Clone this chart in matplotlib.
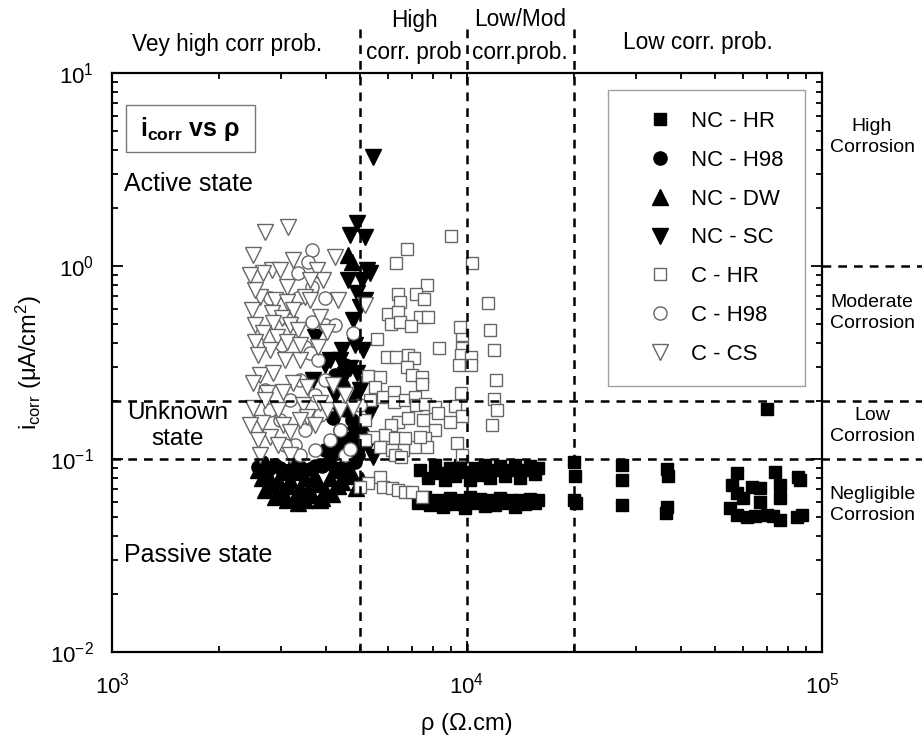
import matplotlib
matplotlib.use("Agg")
import matplotlib.pyplot as plt
from matplotlib.patches import Rectangle

plt.rcParams['font.family'] = ['Liberation Sans', 'DejaVu Sans']
plt.rcParams['mathtext.fontset'] = 'custom'
plt.rcParams['mathtext.rm'] = 'Liberation Sans'
plt.rcParams['mathtext.it'] = 'Liberation Sans:italic'
plt.rcParams['mathtext.bf'] = 'Liberation Sans:bold'
plt.rcParams['mathtext.default'] = 'regular'

# ---- data (rho in ohm.cm, icorr in uA/cm2) ----
nc_hr_rho = [7373, 7766, 8126, 8395, 8670, 8956, 9252, 9557, 9872, 10196, 10532, 10879,
             11238, 11610, 11993, 12388, 12794, 13216, 13652, 14105, 14572, 15047, 15542, 15849,
             7278, 7616, 7867, 8286, 8558, 8956, 9252, 9557, 9872, 10196, 10532, 10879,
             11238, 11610, 11993, 12388, 12794, 13216, 13652, 14105, 14572, 15047, 15542, 15849,
             20010, 20100, 20010, 20280, 27330, 27330, 27330, 36590, 36830, 36590, 36360,
             57650, 55790, 57650, 59890, 63530, 66880, 73760, 76170, 76170, 66880, 85560, 86690,
             55060, 57650, 61470, 64760, 69980, 72760, 76170, 85070, 87870, 69980]
nc_hr_i = [0.0877, 0.0797, 0.0931, 0.0846, 0.0778, 0.0899, 0.0816, 0.0931, 0.0856, 0.0778, 0.0899, 0.0826,
           0.0931, 0.0797, 0.0877, 0.0920, 0.0816, 0.0877, 0.0931, 0.0797, 0.0877, 0.0920, 0.0836, 0.0899,
           0.0592, 0.0635, 0.0578, 0.0613, 0.0564, 0.0628, 0.0585, 0.0613, 0.0557, 0.0635, 0.0592, 0.0620,
           0.0571, 0.0613, 0.0578, 0.0628, 0.0592, 0.0613, 0.0564, 0.0613, 0.0585, 0.0620, 0.0592, 0.0613,
           0.0965, 0.0816, 0.0613, 0.0592, 0.0931, 0.0778, 0.0578, 0.0888, 0.0816, 0.0564, 0.0525,
           0.0846, 0.0733, 0.0666, 0.0628, 0.0716, 0.0708, 0.0856, 0.0733, 0.0628, 0.0598, 0.0807, 0.0778,
           0.0557, 0.0513, 0.0501, 0.0507, 0.0513, 0.0507, 0.0483, 0.0501, 0.0513, 0.182]

nc_h98_rho = [2577, 2751, 2974, 3172, 3385, 3612, 3905, 4248,
              4194, 4389, 4622, 4836, 4994, 4533, 4744, 4332, 5059, 4533, 4248,
              2645, 2879, 3277, 3731, 4059, 4533, 4836, 3981, 4744, 4932, 4389]
nc_h98_i = [0.0909, 0.0877, 0.0899, 0.0877, 0.0909, 0.0888, 0.0920, 0.0899,
            0.163, 0.141, 0.125, 0.150, 0.118, 0.179, 0.109, 0.111, 0.138, 0.307, 0.272,
            0.0965, 0.0931, 0.0953, 0.0920, 0.0953, 0.0931, 0.0965, 0.111, 0.159, 0.105, 0.125]

nc_dw_rho = [2645, 2823, 3013, 3172, 3277, 3385, 3497, 3660, 3804, 3981, 4112, 4332, 4533,
             2879, 3497, 3854, 3072, 2698, 4389, 4744, 4622, 4744, 4445, 4836,
             2577, 2751, 2936, 3131, 3342, 3565, 3731, 3905, 4167, 4445, 4682, 4867, 5059, 3112, 3342]
nc_dw_i = [0.0797, 0.0733, 0.0675, 0.0778, 0.0635, 0.0708, 0.0797, 0.0651, 0.0742, 0.0691, 0.0797, 0.0725, 0.0826,
           0.0635, 0.0613, 0.0613, 0.0856, 0.0691, 0.0877, 0.0816, 1.140, 1.049, 0.263, 0.215,
           0.0877, 0.0826, 0.0778, 0.0725, 0.0856, 0.0691, 0.0816, 0.0628, 0.0658, 0.0760, 0.0877, 0.0708,
           0.0778, 0.0613, 0.0592]

nc_sc_rho = [5435, 4899, 4682, 5159, 5226, 4622, 5059, 4899, 4994, 4774, 5330, 3731, 4112, 4389,
             4682, 4899, 3683, 5330, 4994, 4682, 5435, 4194, 4592, 4836, 5159, 4445, 4248, 5159,
             3981, 4533, 4994, 4332, 4836, 5261, 5093]
nc_sc_i = [3.672, 1.670, 1.448, 1.414, 0.953, 0.846, 0.846, 0.724, 0.613, 0.525, 0.920, 0.429, 0.326, 0.326,
           0.296, 0.279, 0.257, 0.173, 0.147, 0.125, 0.1024, 0.1024, 0.289, 0.390, 0.666, 0.367, 0.215, 0.125,
           0.307, 0.272, 0.228, 0.179, 0.133, 0.118, 0.367]

c_hr_rho = [9014, 6776, 6310, 10330, 7716, 6392, 7184, 7567, 6476, 5991, 6392, 7373, 7766, 6109,
            6476, 6955, 5578, 8340, 9681, 9557, 9681, 9619, 10263, 9495, 10263, 5953, 6310, 6821,
            7092, 6776, 7000, 7469, 7469, 5261, 5688, 5506, 5800, 6229, 6229, 6689, 7138, 7184,
            7616, 8126, 8286, 9252, 9619, 9681, 8956, 8126, 7616, 7138, 7716, 7373, 6392, 6109,
            5875, 5435, 5688, 6270, 6689, 6603, 6148, 7518, 6821, 9372, 9681, 6270, 6518,
            5688, 5261, 5800, 6148, 6392, 6689, 7000, 7469, 4994,
            11460, 11610, 11915, 12070, 11915, 12149, 11761, 5159, 5330, 5159]
c_hr_i = [1.431, 1.225, 1.036, 1.036, 0.797, 0.716, 0.716, 0.675, 0.651, 0.564, 0.578, 0.544, 0.544, 0.501,
          0.513, 0.489, 0.418, 0.376, 0.439, 0.483, 0.376, 0.346, 0.338, 0.307, 0.307, 0.338, 0.338, 0.346,
          0.334, 0.300, 0.272, 0.266, 0.245, 0.269, 0.266, 0.236, 0.210, 0.222, 0.197, 0.202, 0.210, 0.191,
          0.193, 0.186, 0.173, 0.188, 0.220, 0.167, 0.156, 0.141, 0.128, 0.115, 0.115, 0.130, 0.156, 0.150,
          0.133, 0.130, 0.115, 0.128, 0.128, 0.111, 0.111, 0.159, 0.163, 0.121, 0.105, 0.105, 0.1024,
          0.0807, 0.0751, 0.0716, 0.0708, 0.0691, 0.0675, 0.0675, 0.0635, 0.0716,
          0.643, 0.466, 0.367, 0.257, 0.205, 0.179, 0.150, 0.159, 0.202, 0.125]

c_h98_rho = [3660, 3565, 3342, 3660, 2787, 3342, 3981, 3981, 3660, 4248, 4774, 3497, 3612, 3385,
             3172, 3731, 3854, 3497, 3277, 4112, 4389, 2974, 2787, 4533, 2698, 3072, 4682, 4994,
             3804, 3172, 3013, 3385, 3731, 3981]
c_h98_i = [1.210, 1.049, 0.920, 0.778, 0.683, 0.683, 0.683, 0.495, 0.513, 0.495, 0.450, 0.380, 0.354, 0.257,
           0.202, 0.215, 0.169, 0.141, 0.118, 0.125, 0.141, 0.159, 0.179, 0.105, 0.228, 0.118, 0.113, 0.191,
           0.326, 0.525, 0.390, 0.105, 0.111, 0.257]

c_cs_rho = [2698, 3131, 2496, 4248, 3235, 2823, 2974, 2663, 3780, 3930, 3112, 2611, 2879, 3112, 3497,
            2480, 2823, 3235, 3013, 3854, 2528, 2842, 3172, 3342, 2663, 2916, 4332, 4033, 3112, 2528,
            3804, 2787, 2611, 2842, 2496, 3235, 2733, 3032, 3543, 2496, 2936, 3452, 2645, 3032, 3854,
            2787, 3172, 2577, 2936, 3543, 4033, 4389, 4774, 3385, 2528, 3612, 5159,
            2447, 2577, 3385, 3612, 3072, 2698, 2447, 3731, 4194, 4533, 3385, 2611, 3172]
c_cs_i = [1.501, 1.594, 1.140, 1.113, 1.074, 0.953, 0.953, 0.920, 0.953, 0.846, 0.778, 0.691, 0.666, 0.651, 0.691,
          0.592, 0.571, 0.592, 0.538, 0.544, 0.495, 0.507, 0.495, 0.466, 0.450, 0.429, 0.666, 0.455, 0.404, 0.404,
          0.380, 0.367, 0.272, 0.279, 0.248, 0.248, 0.220, 0.222, 0.236, 0.184, 0.179, 0.191, 0.154, 0.150, 0.195,
          0.130, 0.138, 0.125, 0.118, 0.165, 0.179, 0.179, 0.184, 0.326, 0.751, 0.846, 0.628,
          0.898, 0.346, 0.390, 0.666, 0.326, 0.202, 0.150, 0.150, 0.242, 0.215, 0.159, 0.105, 0.105]

rho_limits = [5000, 10000, 20000]
icorr_limits = [0.2, 0.1]

# ---- figure ----
fig = plt.figure(figsize=(9.22, 7.43), dpi=100)
ax = fig.add_axes([112 / 922, 1 - 652 / 743, 710 / 922, 579 / 743])
ax.set_xscale('log')
ax.set_yscale('log')
ax.set_xlim(1e3, 1e5)
ax.set_ylim(1e-2, 1e1)

grey = '#666666'
ax.plot(nc_hr_rho, nc_hr_i, ls='none', marker='s', ms=9, mfc='black', mec='black', label='NC - HR')
ax.plot(nc_h98_rho, nc_h98_i, ls='none', marker='o', ms=9.5, mfc='black', mec='black', label='NC - H98')
ax.plot(nc_dw_rho, nc_dw_i, ls='none', marker='^', ms=11, mfc='black', mec='black', label='NC - DW')
ax.plot(nc_sc_rho, nc_sc_i, ls='none', marker='v', ms=11, mfc='black', mec='black', label='NC - SC')
ax.plot(c_hr_rho, c_hr_i, ls='none', marker='s', ms=8.5, mfc='white', mec=grey, mew=1, label='C - HR')
ax.plot(c_h98_rho, c_h98_i, ls='none', marker='o', ms=9.5, mfc='white', mec=grey, mew=1, label='C - H98')
ax.plot(c_cs_rho, c_cs_i, ls='none', marker='v', ms=11, mfc='white', mec=grey, mew=1, label='C - CS')

# limit lines
dash = dict(color='black', lw=1.8, dashes=(3.5, 2.8), clip_on=False, zorder=5)
for r in rho_limits:
    ax.axvline(r, ymin=0, ymax=(652 - 25) / 579, **dash)
for v in icorr_limits:
    ax.axhline(v, xmin=0, xmax=(922 - 112) / 710, **dash)
ax.axhline(1.0, xmin=1.0, xmax=(922 - 112) / 710, **dash)

# axes style
for s in ax.spines.values():
    s.set_linewidth(1.6)
ax.tick_params(which='both', direction='in', top=True, right=True, width=1.3, labelsize=16)
ax.tick_params(which='major', length=8)
ax.tick_params(which='minor', length=4.5)
ax.tick_params(axis='x', pad=15)
ax.tick_params(axis='y', pad=13)
ax.set_xlabel('ρ (Ω.cm)', fontsize=17, labelpad=10)
ax.set_ylabel('i$_{corr}$ (μA/cm$^{2}$)', fontsize=17, labelpad=4)

# legend
leg = ax.legend(loc='upper right', bbox_to_anchor=((805 - 112) / 710, (652 - 90) / 579),
                borderaxespad=0, fontsize=16, frameon=True, fancybox=False, edgecolor='#888888',
                borderpad=0.95, labelspacing=0.8, handlelength=2.8, handletextpad=0.0,
                markerscale=1.0, numpoints=1)
leg.get_frame().set_linewidth(1.0)

# title box
ax.add_patch(Rectangle((0.0197, 0.8636), 0.1817, 0.0812, transform=ax.transAxes,
                       fill=False, ec='#777777', lw=1.0))
ax.text(0.1105, 0.904, r'$\mathbf{i_{corr}}$ vs ρ', transform=ax.transAxes, fontsize=18,
        fontweight='bold', ha='center', va='center')

# state labels
ax.text(0.017, 0.809, 'Active state', transform=ax.transAxes, fontsize=18, ha='left', va='center')
ax.text(0.093, 0.39, 'Unknown\nstate', transform=ax.transAxes, fontsize=17.5, ha='center', va='center')
ax.text(0.017, 0.168, 'Passive state', transform=ax.transAxes, fontsize=18, ha='left', va='center')

# probability zones
fig.text(227 / 922, 1 - 45 / 743, 'Vey high corr prob.', fontsize=16.3, ha='center', va='center')
fig.text(414 / 922, 1 - 20 / 743, 'High', fontsize=16.3, ha='center', va='center')
fig.text(414 / 922, 1 - 52 / 743, 'corr. prob', fontsize=16.3, ha='center', va='center')
fig.text(520 / 922, 1 - 20 / 743, 'Low/Mod', fontsize=16.3, ha='center', va='center')
fig.text(520 / 922, 1 - 52 / 743, 'corr.prob.', fontsize=16.3, ha='center', va='center')
fig.text(698 / 922, 1 - 43 / 743, 'Low corr. prob.', fontsize=16.3, ha='center', va='center')

# corrosion levels
for txt, yp in [('High\nCorrosion', 137), ('Moderate\nCorrosion', 313),
                ('Low\nCorrosion', 426), ('Negligible\nCorrosion', 505)]:
    fig.text(872 / 922, 1 - yp / 743, txt, fontsize=14, ha='center', va='center', linespacing=1.25)

fig.savefig('out.png', dpi=100)
